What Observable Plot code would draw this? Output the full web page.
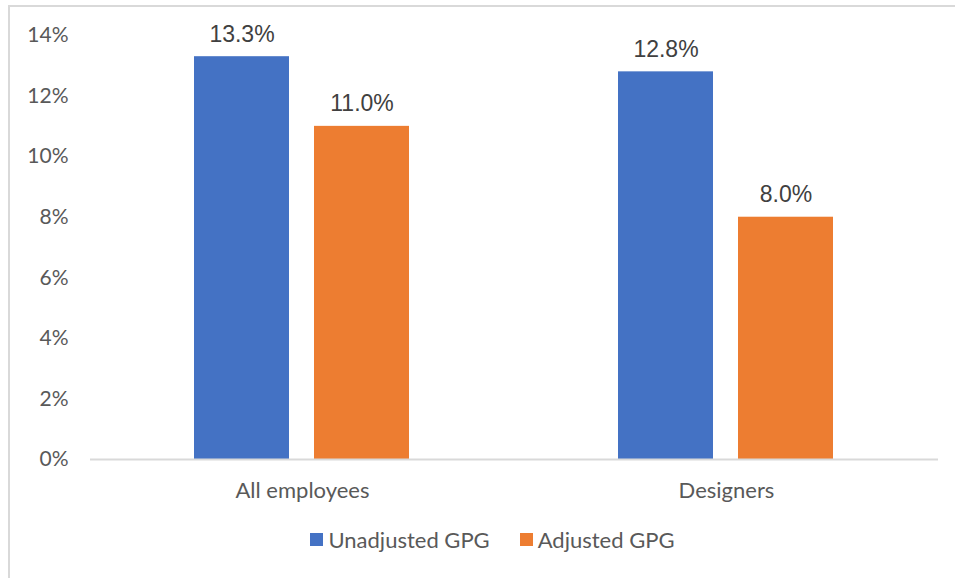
<!DOCTYPE html>
<html>
<head>
<meta charset="utf-8">
<script src="https://cdn.jsdelivr.net/npm/d3@7"></script>
<script src="https://cdn.jsdelivr.net/npm/@observablehq/plot@0.6"></script>
<style>
  html, body { margin: 0; padding: 0; background: #fff; }
  #frame {
    position: absolute; left: 8px; top: 5px; width: 1000px; height: 1000px;
    border-left: 2px solid #d9d9d9; border-top: 2px solid #d9d9d9;
    box-sizing: border-box; pointer-events: none;
  }
  #chart { position: relative; width: 955px; }
  #chart svg { display: block; }
  .gpg-legend {
    justify-content: center;
    padding-left: 60px;
    margin-top: 13px !important;
    font-family: Lato, sans-serif;
    font-size: 22px !important;
    color: #595959;
  }
  .gpg-legend > span { margin-right: 30px !important; }
  .gpg-legend svg { margin-right: 5px !important; }
</style>
</head>
<body>
<div id="frame"></div>
<div id="chart"></div>
<script>
// Gender pay gap, unadjusted vs adjusted, for all employees and for designers
const categories = ["All employees", "Designers"];
const series = ["Unadjusted GPG", "Adjusted GPG"];
const unadjusted = [13.3, 12.8];
const adjusted = [11.0, 8.0];
const yTicks = [0, 2, 4, 6, 8, 10, 12, 14];
const colors = ["#4472C4", "#ED7D31"];

const rows = categories.flatMap((category, i) => [
  {category, series: series[0], value: unadjusted[i]},
  {category, series: series[1], value: adjusted[i]}
]);

const plot = Plot.plot({
  width: 955,
  height: 510,
  marginTop: 35,
  marginBottom: 51,
  marginLeft: 90,
  marginRight: 17,
  style: {fontFamily: "Lato, sans-serif", fontSize: "21px", color: "#595959", background: "transparent"},
  // each category fills half the frame; the bar pair sits centred in it
  fx: {domain: categories, padding: 0},
  x: {domain: series, paddingInner: 0.2083, paddingOuter: 0.8667, axis: null},
  y: {domain: [0, 14], label: null},
  color: {domain: series, range: colors},
  marks: [
    Plot.axisY({ticks: yTicks, tickFormat: d => d + "%", tickSize: 0, tickPadding: 22, label: null, fontSize: 21}),
    Plot.axisFx({anchor: "bottom", tickSize: 0, tickPadding: 23, label: null, fontSize: 22}),
    Plot.barY(rows, {fx: "category", x: "series", y: "value", fill: "series"}),
    Plot.ruleY([0], {stroke: "#d9d9d9", strokeWidth: 2}),
    Plot.text(rows, {
      fx: "category", x: "series", y: "value",
      text: d => d3.format(".1f")(d.value) + "%",
      lineAnchor: "bottom", dy: -15,
      fill: "#404040",
      fontFamily: "'Liberation Sans Narrow', 'Liberation Sans', Arial, sans-serif",
      fontSize: 23
    })
  ]
});

document.getElementById("chart").append(plot);

const legend = Plot.legend({
  color: {domain: series, range: colors},
  swatchSize: 13,
  className: "gpg-legend"
});
legend.classList.add("gpg-legend");
document.getElementById("chart").append(legend);
</script>
</body>
</html>
